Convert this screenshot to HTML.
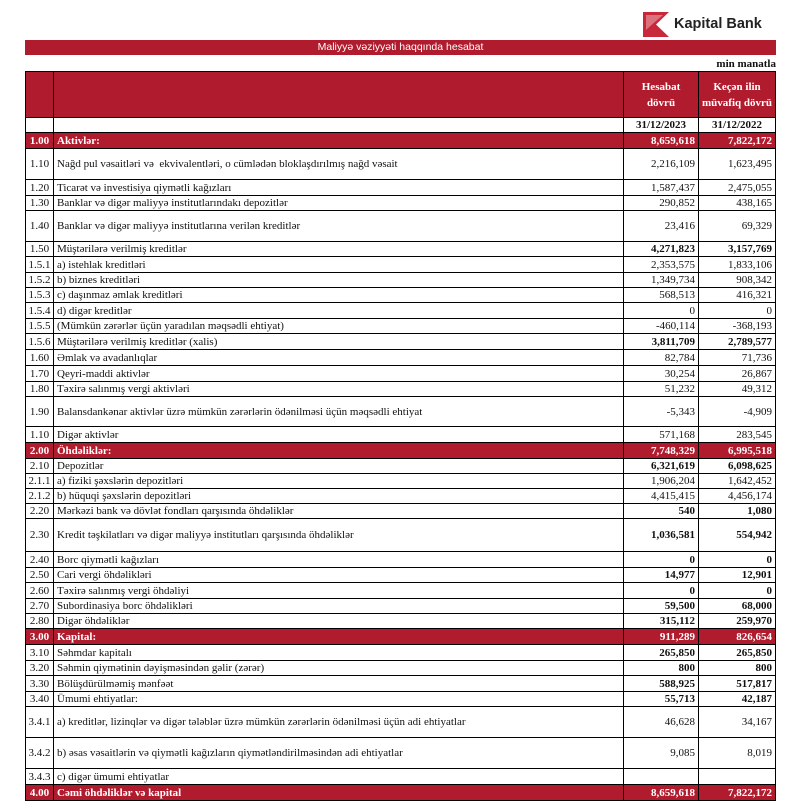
<!DOCTYPE html>
<html><head><meta charset="utf-8"><style>
body{margin:0;width:800px;height:811px;background:#fff;position:relative;overflow:hidden;font-family:"Liberation Serif",serif;font-size:11px;color:#111}
.r{position:absolute;left:25px;width:751px;box-sizing:border-box;border:1px solid #000;border-top:none;display:flex}
.r>div{box-sizing:border-box;display:flex;align-items:center;white-space:nowrap;overflow:hidden}
.c{width:28px;border-right:1px solid #000;justify-content:center}
.d{width:570px;border-right:1px solid #000;padding-left:3px}
.v{width:75px;border-right:1px solid #000;justify-content:flex-end;padding-right:3px}
.w{width:76px;justify-content:flex-end;padding-right:3px}
.red{background:#b01c2e;color:#fff;font-weight:bold}
.b .v,.b .w{font-weight:bold}
</style></head><body>
<div style="position:absolute;left:643px;top:12px;width:26px;height:25px">
<svg width="26" height="25" viewBox="0 0 26 25"><polygon points="0,0 26,0 13,12.5 26,25 0,25" fill="#c8283a"/><polygon points="3,3 20,3 9,12.5 3,18" fill="#fff" opacity=".35"/></svg></div>
<div style="position:absolute;left:674px;top:16px;font-family:'Liberation Sans',sans-serif;font-size:14.5px;font-weight:bold;color:#222">Kapital Bank</div>
<div style="position:absolute;left:25px;top:40px;width:751px;height:15px;background:#b01c2e;color:#fff;font-family:'Liberation Sans',sans-serif;font-size:10.5px;text-align:center;line-height:15px">Maliyyə vəziyyəti haqqında hesabat</div>
<div style="position:absolute;right:24px;top:58px;font-weight:bold;font-size:11px">min manatla</div>
<div class="r red" style="top:71px;height:47px;border-top:1px solid #000;line-height:16px"><div class="c"></div><div class="d"></div><div class="v" style="justify-content:center;text-align:center;white-space:normal;padding:0">Hesabat<br>dövrü</div><div class="w" style="justify-content:center;text-align:center;padding:0">Keçən ilin<br>müvafiq dövrü</div></div>
<div class="r b" style="top:118px;height:15px"><div class="c"></div><div class="d"></div><div class="v" style="justify-content:center;padding:0">31/12/2023</div><div class="w" style="justify-content:center;padding:0">31/12/2022</div></div>
<div class="r red" style="top:133px;height:16px"><div class="c">1.00</div><div class="d">Aktivlər:</div><div class="v">8,659,618</div><div class="w">7,822,172</div></div>
<div class="r" style="top:149px;height:31px"><div class="c">1.10</div><div class="d">Nağd pul vəsaitləri və &nbsp;ekvivalentləri, o cümlədən bloklaşdırılmış nağd vəsait</div><div class="v">2,216,109</div><div class="w">1,623,495</div></div>
<div class="r" style="top:180px;height:16px"><div class="c">1.20</div><div class="d">Ticarət və investisiya qiymətli kağızları</div><div class="v">1,587,437</div><div class="w">2,475,055</div></div>
<div class="r" style="top:196px;height:15px"><div class="c">1.30</div><div class="d">Banklar və digər maliyyə institutlarındakı depozitlər</div><div class="v">290,852</div><div class="w">438,165</div></div>
<div class="r" style="top:211px;height:31px"><div class="c">1.40</div><div class="d">Banklar və digər maliyyə institutlarına verilən kreditlər</div><div class="v">23,416</div><div class="w">69,329</div></div>
<div class="r b" style="top:242px;height:15px"><div class="c">1.50</div><div class="d">Müştərilərə verilmiş kreditlər</div><div class="v">4,271,823</div><div class="w">3,157,769</div></div>
<div class="r" style="top:257px;height:16px"><div class="c">1.5.1</div><div class="d">a) istehlak kreditləri</div><div class="v">2,353,575</div><div class="w">1,833,106</div></div>
<div class="r" style="top:273px;height:15px"><div class="c">1.5.2</div><div class="d">b) biznes kreditləri</div><div class="v">1,349,734</div><div class="w">908,342</div></div>
<div class="r" style="top:288px;height:15px"><div class="c">1.5.3</div><div class="d">c) daşınmaz əmlak kreditləri</div><div class="v">568,513</div><div class="w">416,321</div></div>
<div class="r" style="top:303px;height:16px"><div class="c">1.5.4</div><div class="d">d) digər kreditlər</div><div class="v">0</div><div class="w">0</div></div>
<div class="r" style="top:319px;height:15px"><div class="c">1.5.5</div><div class="d">(Mümkün zərərlər üçün yaradılan məqsədli ehtiyat)</div><div class="v">-460,114</div><div class="w">-368,193</div></div>
<div class="r b" style="top:334px;height:16px"><div class="c">1.5.6</div><div class="d">Müştərilərə verilmiş kreditlər (xalis)</div><div class="v">3,811,709</div><div class="w">2,789,577</div></div>
<div class="r" style="top:350px;height:16px"><div class="c">1.60</div><div class="d">Əmlak və avadanlıqlar</div><div class="v">82,784</div><div class="w">71,736</div></div>
<div class="r" style="top:366px;height:16px"><div class="c">1.70</div><div class="d">Qeyri-maddi aktivlər</div><div class="v">30,254</div><div class="w">26,867</div></div>
<div class="r" style="top:382px;height:15px"><div class="c">1.80</div><div class="d">Təxirə salınmış vergi aktivləri</div><div class="v">51,232</div><div class="w">49,312</div></div>
<div class="r" style="top:397px;height:30px"><div class="c">1.90</div><div class="d">Balansdankənar aktivlər üzrə mümkün zərərlərin ödənilməsi üçün məqsədli ehtiyat</div><div class="v">-5,343</div><div class="w">-4,909</div></div>
<div class="r" style="top:427px;height:16px"><div class="c">1.10</div><div class="d">Digər aktivlər</div><div class="v">571,168</div><div class="w">283,545</div></div>
<div class="r red" style="top:443px;height:16px"><div class="c">2.00</div><div class="d">Öhdəliklər:</div><div class="v">7,748,329</div><div class="w">6,995,518</div></div>
<div class="r b" style="top:459px;height:15px"><div class="c">2.10</div><div class="d">Depozitlər</div><div class="v">6,321,619</div><div class="w">6,098,625</div></div>
<div class="r" style="top:474px;height:15px"><div class="c">2.1.1</div><div class="d">a) fiziki şəxslərin depozitləri</div><div class="v">1,906,204</div><div class="w">1,642,452</div></div>
<div class="r" style="top:489px;height:15px"><div class="c">2.1.2</div><div class="d">b) hüquqi şəxslərin depozitləri</div><div class="v">4,415,415</div><div class="w">4,456,174</div></div>
<div class="r b" style="top:504px;height:15px"><div class="c">2.20</div><div class="d">Mərkəzi bank və dövlət fondları qarşısında öhdəliklər</div><div class="v">540</div><div class="w">1,080</div></div>
<div class="r b" style="top:519px;height:33px"><div class="c">2.30</div><div class="d">Kredit təşkilatları və digər maliyyə institutları qarşısında öhdəliklər</div><div class="v">1,036,581</div><div class="w">554,942</div></div>
<div class="r b" style="top:552px;height:16px"><div class="c">2.40</div><div class="d">Borc qiymətli kağızları</div><div class="v">0</div><div class="w">0</div></div>
<div class="r b" style="top:568px;height:15px"><div class="c">2.50</div><div class="d">Cari vergi öhdəlikləri</div><div class="v">14,977</div><div class="w">12,901</div></div>
<div class="r b" style="top:583px;height:16px"><div class="c">2.60</div><div class="d">Təxirə salınmış vergi öhdəliyi</div><div class="v">0</div><div class="w">0</div></div>
<div class="r b" style="top:599px;height:15px"><div class="c">2.70</div><div class="d">Subordinasiya borc öhdəlikləri</div><div class="v">59,500</div><div class="w">68,000</div></div>
<div class="r b" style="top:614px;height:15px"><div class="c">2.80</div><div class="d">Digər öhdəliklər</div><div class="v">315,112</div><div class="w">259,970</div></div>
<div class="r red" style="top:629px;height:16px"><div class="c">3.00</div><div class="d">Kapital:</div><div class="v">911,289</div><div class="w">826,654</div></div>
<div class="r b" style="top:645px;height:16px"><div class="c">3.10</div><div class="d">Səhmdar kapitalı</div><div class="v">265,850</div><div class="w">265,850</div></div>
<div class="r b" style="top:661px;height:15px"><div class="c">3.20</div><div class="d">Səhmin qiymətinin dəyişməsindən gəlir (zərər)</div><div class="v">800</div><div class="w">800</div></div>
<div class="r b" style="top:676px;height:16px"><div class="c">3.30</div><div class="d">Bölüşdürülməmiş mənfəət</div><div class="v">588,925</div><div class="w">517,817</div></div>
<div class="r b" style="top:692px;height:15px"><div class="c">3.40</div><div class="d">Ümumi ehtiyatlar:</div><div class="v">55,713</div><div class="w">42,187</div></div>
<div class="r" style="top:707px;height:31px"><div class="c">3.4.1</div><div class="d">a) kreditlər, lizinqlər və digər tələblər üzrə mümkün zərərlərin ödənilməsi üçün adi ehtiyatlar</div><div class="v">46,628</div><div class="w">34,167</div></div>
<div class="r" style="top:738px;height:31px"><div class="c">3.4.2</div><div class="d">b) əsas vəsaitlərin və qiymətli kağızların qiymətləndirilməsindən adi ehtiyatlar</div><div class="v">9,085</div><div class="w">8,019</div></div>
<div class="r" style="top:769px;height:16px"><div class="c">3.4.3</div><div class="d">c) digər ümumi ehtiyatlar</div><div class="v"></div><div class="w"></div></div>
<div class="r red" style="top:785px;height:16px"><div class="c">4.00</div><div class="d">Cəmi öhdəliklər və kapital</div><div class="v">8,659,618</div><div class="w">7,822,172</div></div>
</body></html>
